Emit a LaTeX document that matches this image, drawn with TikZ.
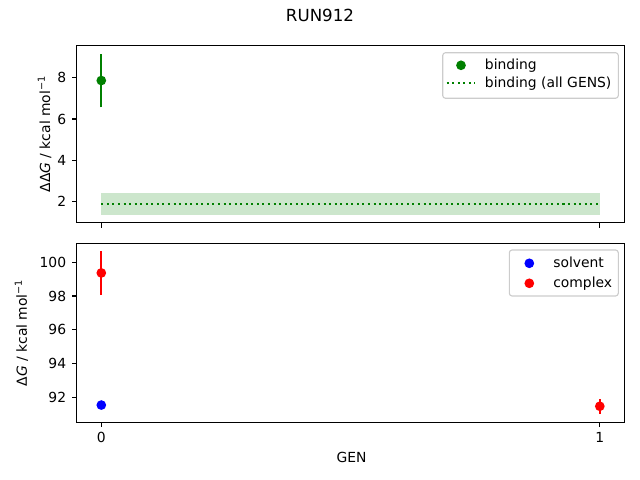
\documentclass[tikz,border=0pt]{standalone}
\usepackage{fontspec}
\setmainfont{DejaVu Sans}
\usepackage{tikz}
\usetikzlibrary{positioning}
\definecolor{vert}{HTML}{008000}
\definecolor{bleu}{HTML}{0000FF}
\definecolor{rouge}{HTML}{FF0000}
\definecolor{bordlegende}{HTML}{CCCCCC}
\tikzset{
    cadre/.style={line width=0.8pt, black},
    graduation/.style={line width=0.8pt, black},
    barre/.style={line width=1.5pt},
    point/.style={circle, inner sep=0pt, minimum size=7pt},
    legende/.style={draw=bordlegende, fill=white, fill opacity=0.8, rounded corners=2pt, line width=0.8pt},
    pointille/.style={line width=1.5pt, dash pattern=on 1.5pt off 2.5pt},
    etiquette/.style={font=\fontsize{10}{12}\selectfont, inner sep=0pt},
}

\begin{document}
\begin{tikzpicture}[x=0.72pt, y=0.72pt]
\useasboundingbox (0,0) rectangle (640,480);
\node[font=\fontsize{12}{14}\selectfont, anchor=base, inner sep=0pt] (titre) at (320,458.3) {RUN912};
% panneau du haut : DDG
\begin{scope}[shift={(101.3,237.04)}, x=358.92pt, y=14.88pt]
\fill[vert, opacity=0.2] (0,1.34) rectangle (1,2.41);
\draw[vert, pointille] (0,1.87) -- (1,1.87);
\draw[vert, barre] (0,6.56) -- (0,9.16);
\node[point, fill=vert] (liaison0) at (0,7.86) {};
\draw[cadre] (-0.05,0.98) rectangle (1.05,9.57);
\foreach \v in {2,4,6,8} {\draw[graduation] (-0.05,\v) -- ++(-3.5pt,0) node[etiquette, left=3.5pt] (ghaut\v) {\v};}
\foreach \x in {0,1} {\draw[graduation] (\x,0.98) -- ++(0,-3.5pt);}
\end{scope}
\node[etiquette, rotate=90, anchor=base] (yhaut) at (50,346) {ΔΔ\textit{G} / kcal mol\textsuperscript{−1}};
% legende du haut
\draw[legende] (442.7,381.7) rectangle (618.3,427.3);
\node[point, fill=vert] (lg1) at (461,414.7) {};
\node[etiquette, anchor=base west] (lt1) at (484.7,410.7) {binding};
\coordinate (lp1) at (446.7,397);
\coordinate (lp2) at (474.7,397);
\draw[vert, pointille] (lp1) -- (lp2);
\node[etiquette, anchor=base west] (lt2) at (484.7,392.7) {binding (all GENS)};
% panneau du bas : DG
\begin{scope}[shift={(101.3,-1469.8)}, x=358.92pt, y=12.15pt]
\draw[rouge, barre] (0,98.07) -- (0,100.67);
\draw[rouge, barre] (1,91.04) -- (1,91.9);
\node[point, fill=bleu] (solvant0) at (0,91.54) {};
\node[point, fill=rouge] (complexe0) at (0,99.37) {};
\node[point, fill=rouge] (complexe1) at (1,91.47) {};
\draw[cadre] (-0.05,90.52) rectangle (1.05,101.13);
\foreach \v in {92,94,96,98,100} {\draw[graduation] (-0.05,\v) -- ++(-3.5pt,0) node[etiquette, left=3.5pt] (gbas\v) {\v};}
\foreach \x in {0,1} {\draw[graduation] (\x,90.52) -- ++(0,-3.5pt) node[etiquette, below=3.5pt] (gx\x) {\x};}
\end{scope}
\node[etiquette, rotate=90, anchor=base] (ybas) at (27,147.2) {Δ\textit{G} / kcal mol\textsuperscript{−1}};
\node[etiquette, anchor=base] (xbas) at (351.5,17.5) {GEN};
% legende du bas
\draw[legende] (509.3,184) rectangle (618.3,230);
\node[point, fill=bleu] (lb1) at (529.3,216.7) {};
\node[etiquette, anchor=base west] (lbt1) at (553,212.7) {solvent};
\node[point, fill=rouge] (lb2) at (529.3,196.7) {};
\node[etiquette, anchor=base west] (lbt2) at (553,192.7) {complex};
\end{tikzpicture}
\end{document}
